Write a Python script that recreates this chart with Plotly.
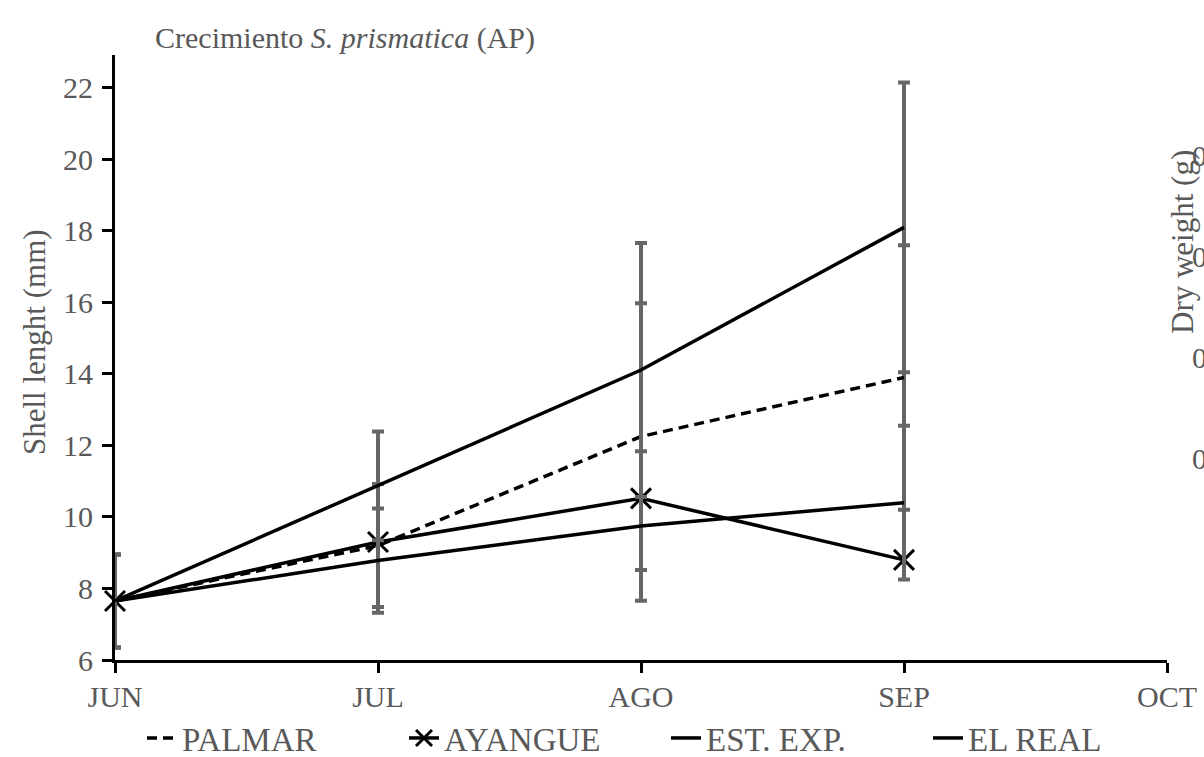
import plotly.graph_objects as go

months = ["JUN", "JUL", "AGO", "SEP", "OCT"]
sample_months = ["JUN", "JUL", "AGO", "SEP"]

palmar = [7.65, 9.2, 12.25, 13.9]
palmar_err = [1.3, 1.72, 3.73, 3.7]

ayangue = [7.65, 9.3, 10.52, 8.8]

est_exp = [7.65, 8.78, 9.75, 10.4]
est_exp_err = [1.3, 1.46, 2.09, 2.15]

el_real = [7.65, 10.87, 14.11, 18.1]
el_real_err = [1.3, 1.52, 3.55, 4.05]

y_ticks = [6, 8, 10, 12, 14, 16, 18, 20, 22]
dry_ticks = [0.3, 0.45, 0.6, 0.75]
dry_ticktext = ["0.3", "0.45", "0.6", "0.75"]

FONT = "Liberation Serif"
GRAY = "#595959"
ERRC = "#666666"

def err(vals):
    return dict(type="data", array=vals, visible=True, color=ERRC, thickness=4, width=6)

fig = go.Figure()
fig.add_trace(go.Scatter(x=sample_months, y=palmar, name="PALMAR", mode="lines",
                         line=dict(color="black", width=3.5, dash="10px,6px"),
                         error_y=err(palmar_err)))
fig.add_trace(go.Scatter(x=sample_months, y=ayangue, name="AYANGUE", mode="lines+markers",
                         line=dict(color="black", width=3.5),
                         marker=dict(symbol="x-thin", size=20, line=dict(color="black", width=3)),
                         cliponaxis=False))
fig.add_trace(go.Scatter(x=sample_months, y=est_exp, name="EST. EXP.", mode="lines",
                         line=dict(color="black", width=3.5),
                         error_y=err(est_exp_err)))
fig.add_trace(go.Scatter(x=sample_months, y=el_real, name="EL REAL", mode="lines",
                         line=dict(color="black", width=3.5),
                         error_y=err(el_real_err)))
# empty trace so the secondary (dry weight) axis is drawn
fig.add_trace(go.Scatter(x=[], y=[], yaxis="y2", showlegend=False, hoverinfo="skip"))

fig.update_layout(
    width=1204, height=757,
    margin=dict(l=115, r=37, t=55, b=97),
    paper_bgcolor="white", plot_bgcolor="white",
    font=dict(family=FONT, size=30, color=GRAY),
    title=dict(text="Crecimiento <i>S. prismatica</i> (AP)", xref="container", x=155/1204,
               xanchor="left", yref="container", y=1-37/757, yanchor="middle",
               font=dict(family=FONT, size=30, color=GRAY)),
    xaxis=dict(type="category", categoryarray=months, categoryorder="array",
               range=[0, 4], tickvals=months, showline=True, linecolor="black", linewidth=3,
               ticks="outside", ticklen=10, tickwidth=3, tickcolor="black", automargin=False,
               ticklabelstandoff=-2, showgrid=False, zeroline=False,
               tickfont=dict(family=FONT, size=30, color=GRAY)),
    yaxis=dict(range=[6, 22.92], tickvals=y_ticks, showline=True, linecolor="black", linewidth=3,
               ticks="outside", ticklen=10, tickwidth=3, tickcolor="black", automargin=False,
               ticklabelstandoff=3, showgrid=False, zeroline=False,
               tickfont=dict(family=FONT, size=30, color=GRAY)),
    yaxis2=dict(overlaying="y", side="right", range=[0, 0.9], tickvals=dry_ticks,
                ticktext=dry_ticktext, showline=False, ticks="", showgrid=False, zeroline=False,
                automargin=False, ticklabelstandoff=24,
                tickfont=dict(family=FONT, size=30, color=GRAY)),
    showlegend=True,
    legend=dict(orientation="h", xref="container", x=142/1204, xanchor="left",
                yref="container", y=1-738/757, yanchor="middle",
                font=dict(family=FONT, size=33, color=GRAY), entrywidth=217,
                bgcolor="rgba(0,0,0,0)", traceorder="normal"),
    annotations=[
        dict(text="Shell lenght (mm)", xref="paper", yref="paper", x=(34-115)/1052,
             y=(660-342)/605, textangle=-90, showarrow=False, xanchor="center", yanchor="middle",
             font=dict(family=FONT, size=31, color=GRAY)),
        dict(text="Dry weight (g)", xref="paper", yref="paper", x=(1182-115)/1052,
             y=(660-242)/605, textangle=-90, showarrow=False, xanchor="center", yanchor="middle",
             font=dict(family=FONT, size=31, color=GRAY)),
    ],
)

fig.write_html("out.html")
